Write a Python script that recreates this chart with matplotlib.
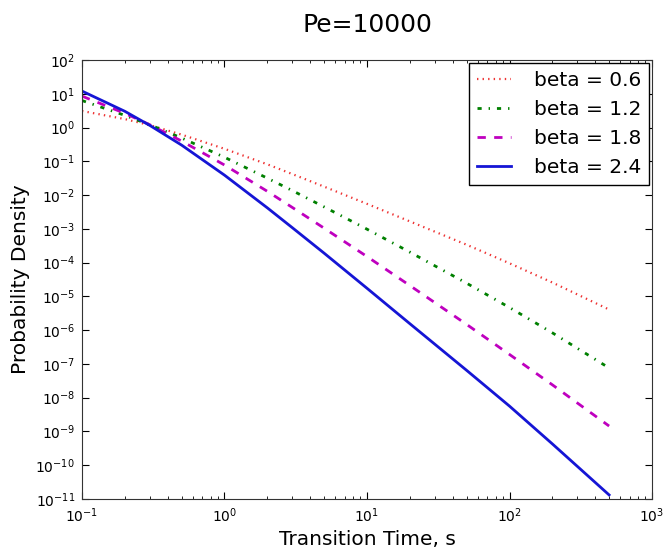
import numpy as np
import matplotlib
matplotlib.use('Agg')
import matplotlib.pyplot as plt

# values (log10 of the density)
t = [0.1, 0.2, 0.3, 0.5, 1, 2, 3, 5, 10, 20, 50, 100, 200, 500]
logp_06 = [0.49, 0.25, 0.07, -0.21, -0.63, -1.09, -1.38, -1.75, -2.26, -2.78, -3.47, -4.02, -4.59, -5.39]
logp_12 = [0.80, 0.36, 0.08, -0.31, -0.88, -1.50, -1.87, -2.35, -3.01, -3.69, -4.61, -5.33, -6.08, -7.12]
logp_18 = [0.93, 0.42, 0.08, -0.40, -1.11, -1.89, -2.37, -2.98, -3.82, -4.68, -5.83, -6.72, -7.62, -8.84]
logp_24 = [1.08, 0.48, 0.06, -0.52, -1.41, -2.38, -2.97, -3.72, -4.76, -5.81, -7.19, -8.25, -9.37, -10.88]
labels = ['beta = 0.6', 'beta = 1.2', 'beta = 1.8', 'beta = 2.4']

plt.rcParams['font.family'] = 'DejaVu Sans'
plt.rcParams['mathtext.fontset'] = 'dejavusans'
plt.rcParams['lines.scale_dashes'] = False
plt.rcParams['lines.dashed_pattern'] = [6, 6]
plt.rcParams['lines.dashdot_pattern'] = [3, 5, 1, 5]
plt.rcParams['lines.dotted_pattern'] = [1, 3]

fig = plt.figure(figsize=(6.71, 5.51), dpi=100)
ax = fig.add_axes([0.1222, 0.0944, 0.8495, 0.7967])

ax.loglog(t, 10 ** np.array(logp_06), ':', color='#ee3333', lw=1.6, label=labels[0])
ax.loglog(t, 10 ** np.array(logp_12), 'g-.', lw=2, label=labels[1])
ax.loglog(t, 10 ** np.array(logp_18), 'm--', lw=2, label=labels[2])
ax.loglog(t, 10 ** np.array(logp_24), '-', color='#1515d5', lw=2, label=labels[3])

ax.set_xlim(1e-1, 1e3)
ax.set_ylim(1e-11, 1e2)
ax.yaxis.set_major_locator(matplotlib.ticker.LogLocator(base=10, numticks=20))
ax.yaxis.set_minor_locator(matplotlib.ticker.NullLocator())
ax.tick_params(which='both', direction='in', top=True, right=True, labelsize=10)
ax.tick_params(which='major', length=5, pad=5)
ax.tick_params(which='minor', length=2.5)
for s in ax.spines.values():
    s.set_color('#333333')

ax.set_xlabel('Transition Time, s', fontsize=14.5, labelpad=4)
ax.set_ylabel('Probability Density', fontsize=14.5, labelpad=4)
ax.set_title('Pe=10000', fontsize=18, pad=20)

leg = ax.legend(loc='upper right', fontsize=14.5, fancybox=False, framealpha=1,
                borderaxespad=0.15, handlelength=1.7, handletextpad=1.1,
                labelspacing=0.5)
leg.get_frame().set_edgecolor('black')

fig.savefig('out.png', dpi=100, facecolor='white')
